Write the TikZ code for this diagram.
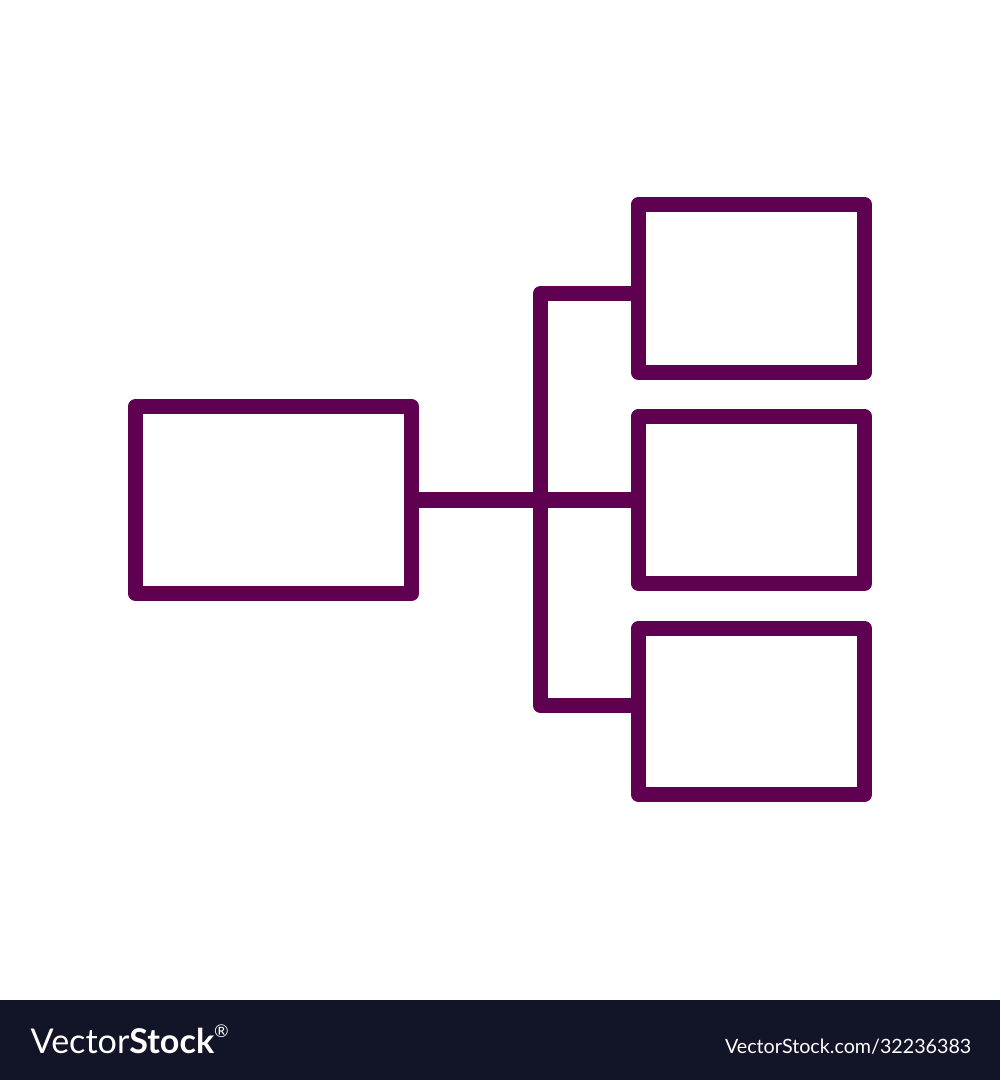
\documentclass[tikz,border=0pt]{standalone}
\usepackage{fontspec}
\setmainfont{Lato}
\begin{document}
\begin{tikzpicture}[x=0.01cm,y=-0.01cm,
  ln/.style={draw=plum, line width=0.15cm, line join=round},
  boxnode/.style={ln, rectangle, inner sep=0pt, outer sep=0pt}]
\definecolor{plum}{HTML}{5F0050}
\definecolor{barcol}{HTML}{121427}
\useasboundingbox (0,0) rectangle (1000,1080);
\fill[white] (0,0) rectangle (1000,1000);
\fill[barcol] (0,1000) rectangle (1000,1080);
\node[boxnode, minimum width=2.76cm, minimum height=1.87cm] (L) at (273.5,500) {};
\node[boxnode, minimum width=2.26cm, minimum height=1.68cm] (T) at (751.5,288.5) {};
\node[boxnode, minimum width=2.26cm, minimum height=1.67cm] (M) at (751.5,500) {};
\node[boxnode, minimum width=2.26cm, minimum height=1.66cm] (B) at (751.5,711.5) {};
\coordinate (bt) at (540.5,293.5);
\coordinate (bb) at (540.5,705.5);
\draw[ln] (L.east) -- (M.west);
\draw[ln] (T.west |- bt) -- (bt) -- (bb) -- (B.west |- bb);
\node[anchor=base west, inner sep=0pt, text=white, font=\fontsize{9.7pt}{12pt}\selectfont] (logo) at (30,1053) {Vector\textbf{Stock}\raisebox{0.9ex}{\fontsize{5pt}{6pt}\selectfont ®}};
\node[anchor=base east, inner sep=0pt, text=white, font=\fontsize{5.6pt}{7pt}\selectfont] (url) at (972,1053) {VectorStock.com/32236383};
\end{tikzpicture}
\end{document}
